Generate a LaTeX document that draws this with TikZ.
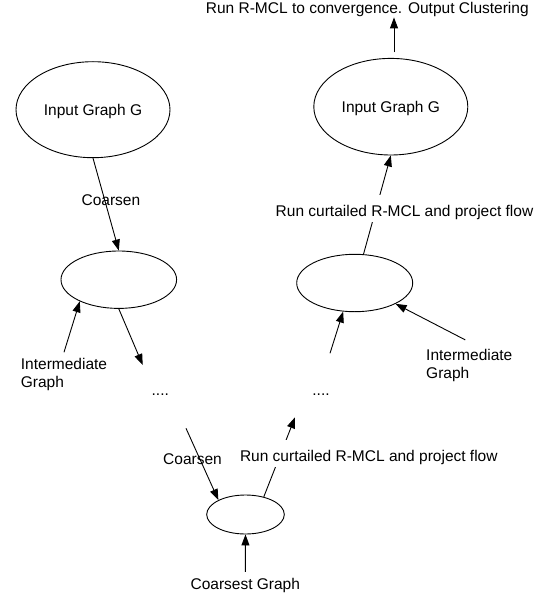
\documentclass[tikz,border=0pt]{standalone}
\usepackage{fontspec}
\setmainfont{Liberation Sans}
\usetikzlibrary{arrows.meta,shapes.geometric}
\tikzset{
  lbl/.style={inner sep=0pt, font=\fontsize{15.5}{17.7}\selectfont},
  blob/.style={lbl, draw, ellipse, fill=white, text depth=0pt, line width=0.9pt},
  cover/.style={lbl, fill=white, text height=21pt, text depth=4pt, inner ysep=1pt, inner xsep=2pt},
  arr/.style={line width=0.9pt, -{Triangle[length=11pt,width=8pt]}}
}

\begin{document}
\begin{tikzpicture}[x=1pt,y=-1pt]
			%%%%% START %%%%%
			\useasboundingbox (0,0) rectangle (546,596);
			
			\node[blob, minimum width=154pt, minimum height=96pt] (g1) at (93,109.7) {Input Graph G};
			\node[blob, minimum width=154pt, minimum height=96.6pt] (g2) at (390.8,106.7) {Input Graph G};
			\node[blob, minimum width=115.6pt, minimum height=57.4pt] (m1) at (118.8,279.7) {};
			\node[blob, minimum width=116pt, minimum height=57.4pt] (m2) at (354.7,283) {};
			\node[blob, minimum width=77.6pt, minimum height=39pt] (cst) at (245.5,514.5) {};
			
			\node[lbl, anchor=base] (out) at (367.3,14) {Run R-MCL to convergence. Output Clustering};
			\node[lbl, anchor=base] (crs1) at (110.9,205.7) {Coarsen};
			\node[lbl, anchor=north west, align=left] (il1) at (20.7,357.9) {Intermediate\\Graph};
			\node[lbl, anchor=north west, align=left] (ir1) at (426,348.9) {Intermediate\\Graph};
			\node[lbl, anchor=base] (dots1) at (160.3,395.5) {....};
			\node[lbl, anchor=base] (dots2) at (321,395.5) {....};
			\node[lbl, anchor=base] (crs2) at (192.5,464) {Coarsen};
			\node[lbl, anchor=base] (cg) at (245.3,589) {Coarsest Graph};
			
			\coordinate (d1a) at (142.7,365);
			\coordinate (d1b) at (186,428.3);
			\coordinate (d2a) at (295,417.3);
			\coordinate (d2b) at (330,353.3);
			
			% coarsening side
			\draw[arr] (g1.south) -- (m1.north);
			\draw[arr] ([yshift=5.6pt]il1.north) -- (m1.209);
			\draw[arr] (m1.south) -- (d1a);
			\draw[arr] (d1b) -- (cst.152);
			\draw[arr] ([yshift=5.6pt]cg.north) -- (cst.south);
			
			% refinement side
			\draw[arr] (cst.44) -- (d2a);
			\node[cover, anchor=base] (run2) at (368.8,461.7) {Run curtailed R-MCL and project flow};
			\draw[arr] (d2b) -- (m2.248);
			\draw[arr] ([xshift=-4pt,yshift=9pt]ir1.north) -- (m2.333);
			\draw[arr] (m2.73) -- (g2.south);
			\node[cover, anchor=base] (run1) at (404.5,216.7) {Run curtailed R-MCL and project flow};
			\draw[arr] ([xshift=3.2pt,yshift=5.6pt]g2.north) -- ([xshift=3.2pt]g2.north |- out.south);
			
			%%%%% END %%%%%
\end{tikzpicture}
\end{document}
